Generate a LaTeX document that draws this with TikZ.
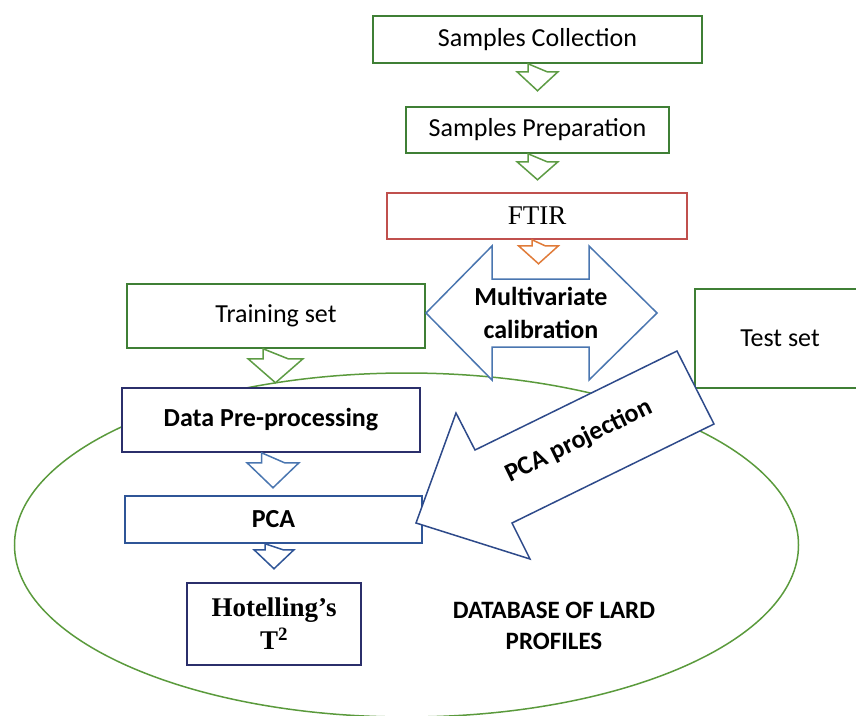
\documentclass[tikz,border=0pt]{standalone}
\usepackage{fontspec}
\setmainfont{Carlito}
\newfontfamily\serifrm{Liberation Serif}
\usetikzlibrary{calc}
\definecolor{gbox}{HTML}{3F7F35}
\definecolor{garr}{HTML}{5E9C45}
\definecolor{gell}{HTML}{5A9A3C}
\definecolor{navy}{HTML}{2B2F6B}
\definecolor{pcab}{HTML}{2F5597}
\definecolor{mvb}{HTML}{4A76B0}
\definecolor{projb}{HTML}{2E4A8A}
\definecolor{ftirc}{HTML}{C0504D}
\definecolor{ftira}{HTML}{E07B39}
\tikzset{
  base/.style={line width=1.5pt, fill=white},
  box/.style={base, draw, rectangle, inner sep=0pt, align=center,
    font=\fontsize{26}{30}\selectfont},
  bbox/.style={box, font=\bfseries\fontsize{26}{30}\selectfont},
  pics/dnarr/.style args={#1/#2/#3/#4}{code={
    \draw[pic actions] (-#1,0) -- (-#1,#3) -- (-#2,#3) -- (0,#4) -- (#2,#3) -- (#1,#3) -- cycle;
  }},
  arr/.style={base, line join=miter}
}
\begin{document}
\begin{tikzpicture}[x=1pt,y=-1pt]
\useasboundingbox (0,0) rectangle (856,715);
% database ellipse
\draw[gell, line width=1.5pt] (406.5,545) ellipse [x radius=392, y radius=172];

% boxes
\node[box, draw=gbox, minimum width=329pt, minimum height=47pt] (sc) at (537.5,39.5) {Samples Collection};
\node[box, draw=gbox, minimum width=263pt, minimum height=46pt] (sp) at (537.5,130) {Samples Preparation};
\node[box, draw=ftirc, minimum width=300pt, minimum height=46pt, font=\serifrm\fontsize{27}{30}\selectfont] (ftir) at (537,216) {FTIR};
\node[box, draw=gbox, minimum width=298pt, minimum height=64pt] (train) at (276,316) {Training set};
\node[box, draw=gbox, minimum width=170pt, minimum height=99pt] (test) at (780,338.5) {Test set};
\node[bbox, draw=navy, minimum width=298pt, minimum height=64pt] (dpp) at (271,420) {Data Pre-processing};
\node[bbox, draw=pcab, minimum width=297pt, minimum height=47pt] (pca) at (273.5,519.5) {PCA};
\node[box, draw=navy, minimum width=174pt, minimum height=82pt,
  font=\serifrm\bfseries\fontsize{27}{33}\selectfont] (hot) at (274,624) {Hotelling’s\\T\textsuperscript{2}};
\node[align=center, font=\bfseries\fontsize{25}{31}\selectfont] (db) at (554,626) {DATABASE OF LARD\\PROFILES};

% block arrows between boxes
\pic[garr, arr] at (sc.south) {dnarr={9.5/20.5/8/27}};
\pic[garr, arr] at (sp.south) {dnarr={9.5/20.5/8/26}};
\pic[ftira, arr] at ($(ftir.south)+(1.5,0)$) {dnarr={6.5/20/6/24}};
\pic[garr, arr] at ($(train.south)+(-0.5,0)$) {dnarr={12.5/27.5/10/34}};
\pic[mvb, arr] at ($(dpp.south)+(2,0)$) {dnarr={11.5/26/10/35}};
\pic[pcab, arr] at ($(pca.south)+(0.5,0)$) {dnarr={9/20/6/25}};

% multivariate calibration double arrow
\draw[mvb, arr] (426,313) -- (492,246) -- (492,279) -- (589,279) -- (589,246)
  -- (657,313) -- (589,380) -- (589,347) -- (492,347) -- (492,380) -- cycle;
\node[align=center, font=\bfseries\fontsize{26}{33}\selectfont] (mv) at (541,313) {Multivariate\\calibration};

% PCA projection arrow
\draw[projb, arr] (677,351) -- (714,424) -- (512,523) -- (530,559) -- (416,523)
  -- (456,413) -- (475,450) -- cycle;
\node[rotate=26, font=\bfseries\fontsize{26}{30}\selectfont] (proj) at (579,441) {PCA projection};
\end{tikzpicture}
\end{document}
